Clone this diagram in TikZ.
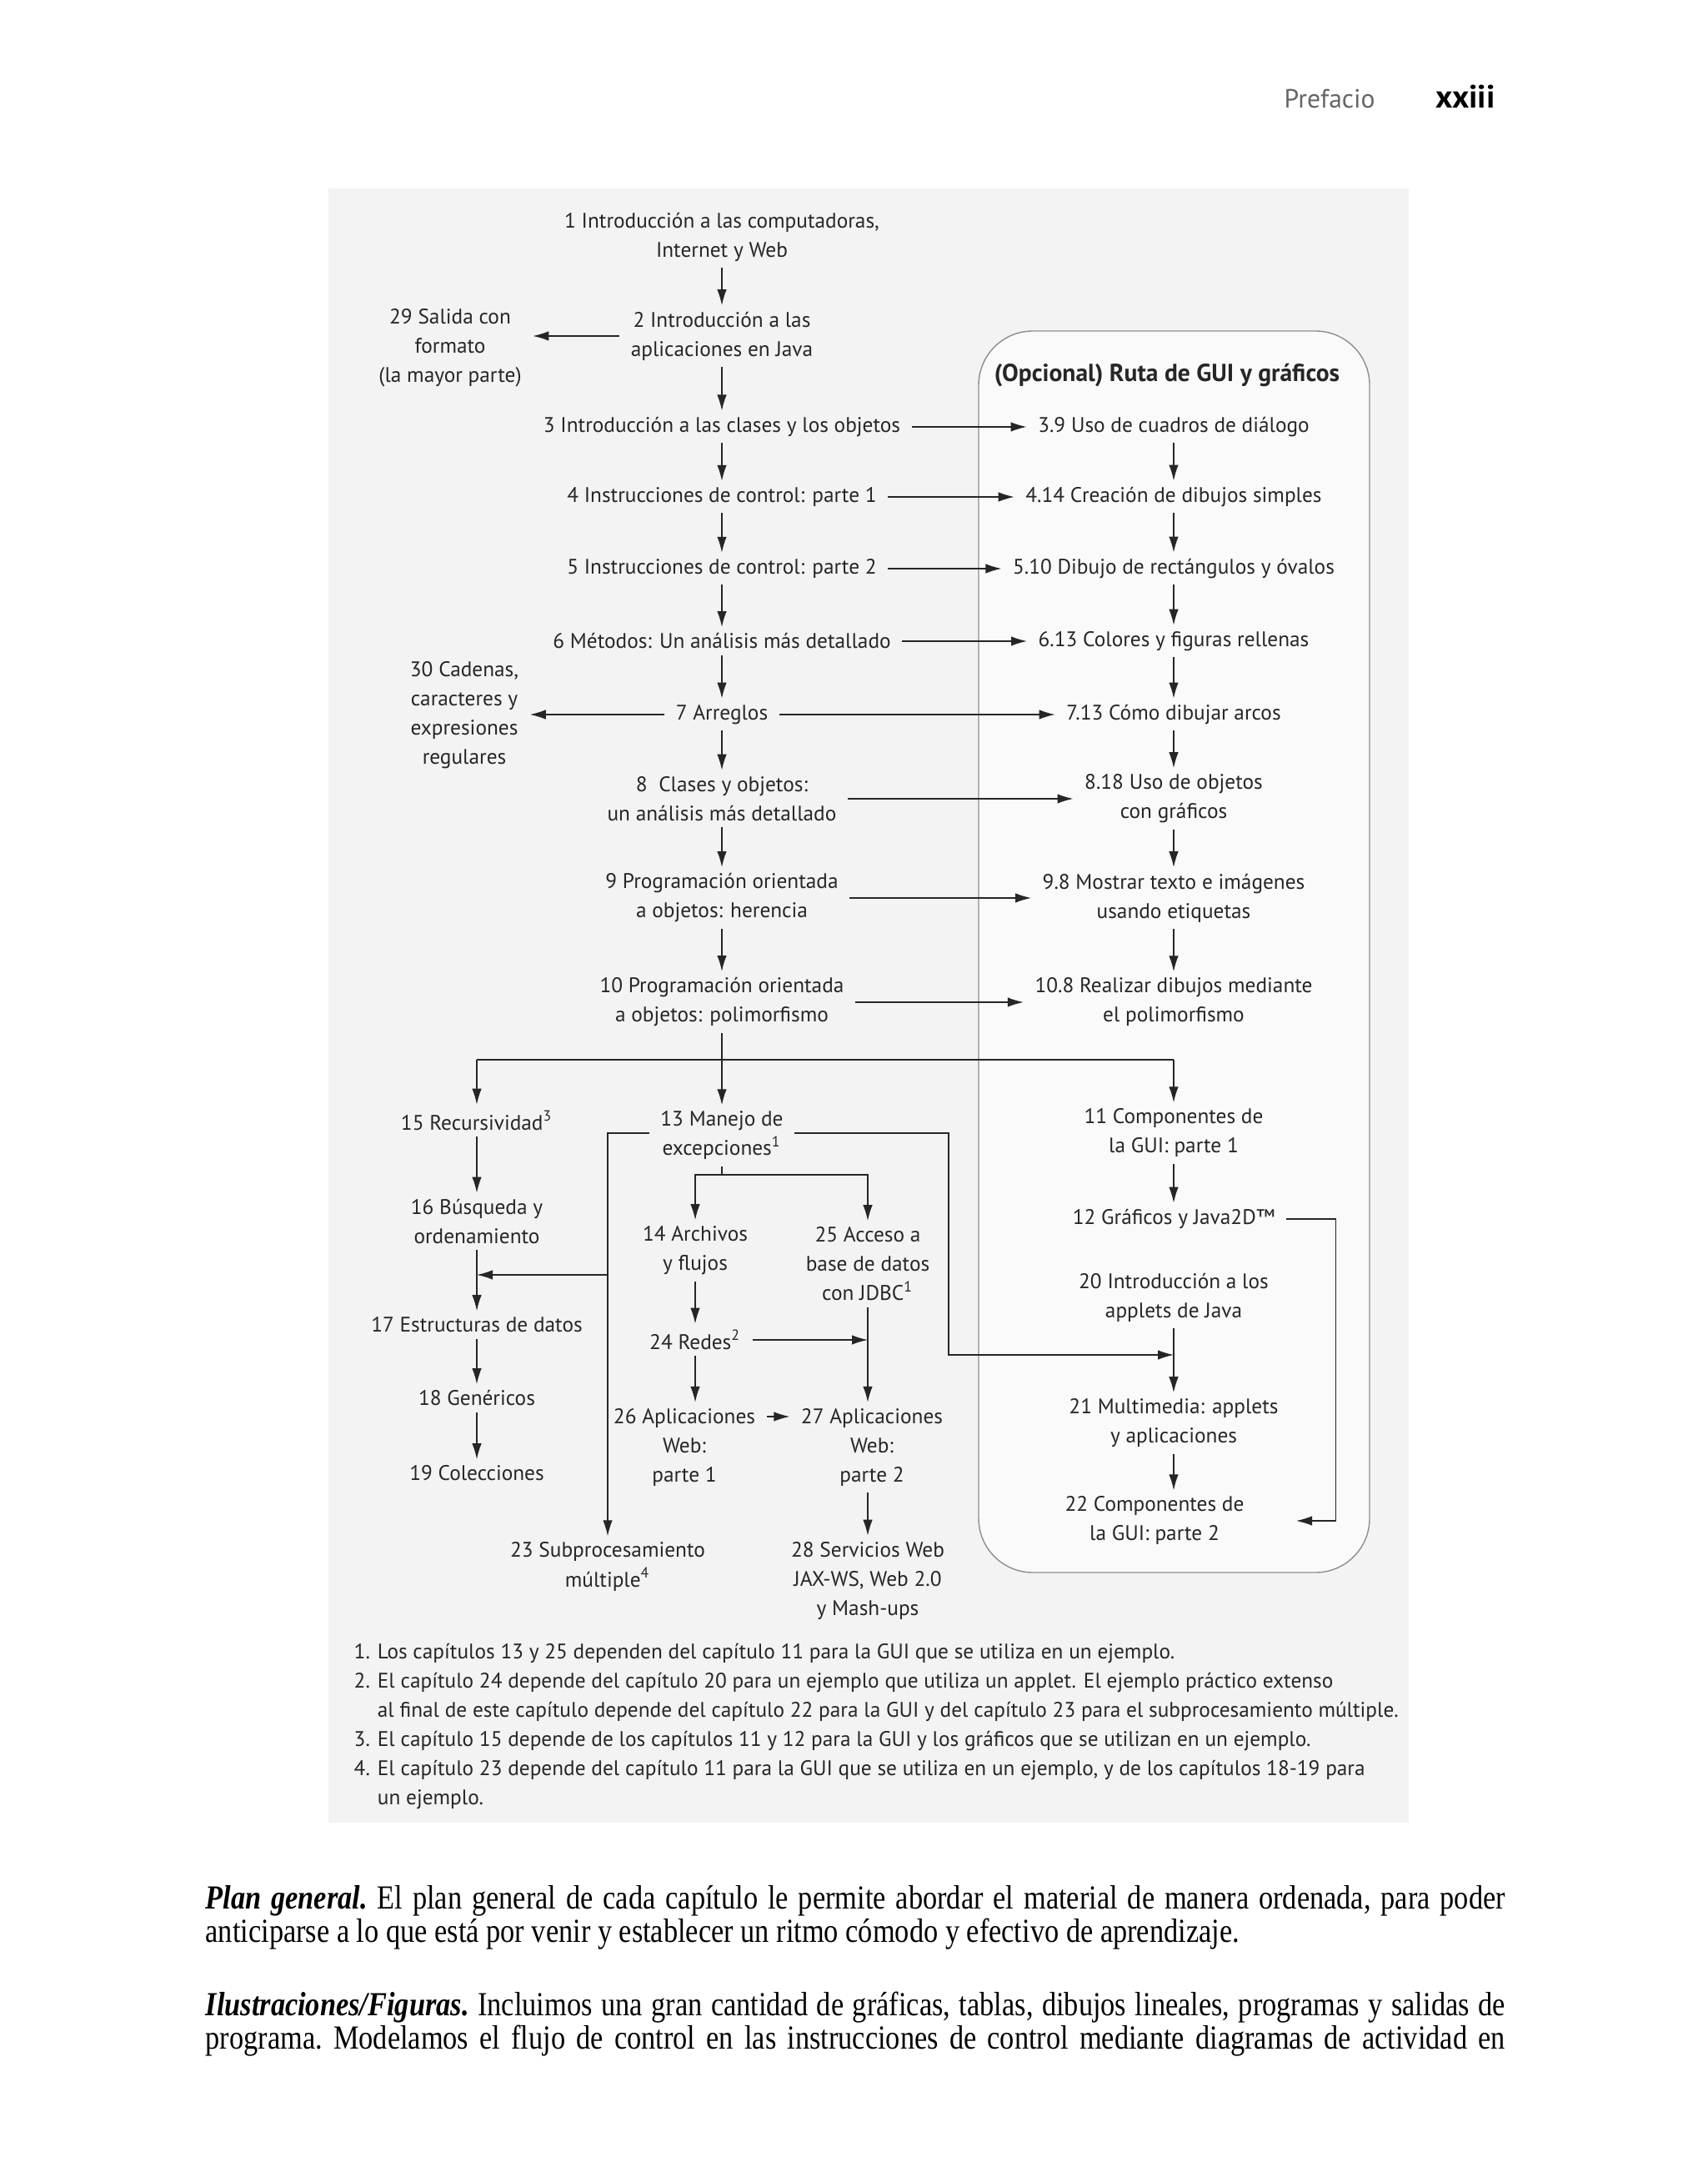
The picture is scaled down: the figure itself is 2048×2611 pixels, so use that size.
\documentclass[tikz,border=0pt]{standalone}
\usepackage{fontspec}
\setmainfont{Liberation Serif}
\newfontfamily\gillsans{PT Sans}
\newfontfamily\bodyserif{Liberation Serif}[FakeStretch=0.85]
\usetikzlibrary{arrows.meta}
\definecolor{panelgray}{HTML}{F4F3F3}
\definecolor{boxgray}{HTML}{8E8E8E}
\definecolor{ink}{HTML}{262626}
\newcommand\diagfont{\gillsans\fontsize{7.2}{9.96}\selectfont}
\newcommand\bodyfont{\bodyserif\fontsize{11.5}{11.4}\selectfont\frenchspacing}

\begin{document}
\begin{tikzpicture}[x=0.1mm,y=-0.1mm,
	>={Latex[length=1.9mm,width=1.15mm]},
	chap/.style={align=center,font=\diagfont,text=ink,inner xsep=1.3mm,inner ysep=0.7mm},
	link/.style={->,draw=ink}]
	\useasboundingbox (0,0) rectangle (2048,2611);
	\fill[white] (0,0) rectangle (2048,2611);

	\node[anchor=base east,font=\gillsans\fontsize{9}{11}\selectfont,text=black!60] (pref) at (1662,130) {Prefacio};
	\node[anchor=base east,font=\gillsans\bfseries\fontsize{11}{13}\selectfont] (page) at (1806,130) {xxiii};

	\fill[panelgray] (394,226) rectangle (1690,2186);
	\draw[boxgray,fill=white!60!panelgray,rounded corners=6.5mm] (1174,397) rectangle (1643,1886);

	% columna principal
	\node[chap] (n1) at (866,284) {1 Introducción a las computadoras,\\Internet y Web};
	\node[chap] (n2) at (866,403) {2 Introducción a las\\aplicaciones en Java};
	\node[chap] (n29) at (540,417) {29 Salida con\\formato\\(la mayor parte)};
	\node[chap] (n3) at (866,512) {3 Introducción a las clases y los objetos};
	\node[chap] (n4) at (866,596) {4 Instrucciones de control: parte 1};
	\node[chap] (n5) at (866,682) {5 Instrucciones de control: parte 2};
	\node[chap] (n6) at (866,769) {6 Métodos: Un análisis más detallado};
	\node[chap] (n7) at (866,857) {7 Arreglos};
	\node[chap] (n30) at (557,858) {30 Cadenas,\\caracteres y\\expresiones\\regulares};
	\node[chap] (n8) at (866,958) {8~~Clases y objetos:\\un análisis más detallado};
	\node[chap] (n9) at (866,1077) {9 Programación orientada\\a objetos: herencia};
	\node[chap] (n10) at (866,1202) {10 Programación orientada\\a objetos: polimorfismo};

	% ruta de GUI
	\node[chap,font=\gillsans\bfseries\fontsize{8.4}{10}\selectfont] (gui) at (1400,450) {(Opcional) Ruta de GUI y gráficos};
	\node[chap] (n39) at (1408,512) {3.9 Uso de cuadros de diálogo};
	\node[chap] (n414) at (1408,596) {4.14 Creación de dibujos simples};
	\node[chap] (n510) at (1408,682) {5.10 Dibujo de rectángulos y óvalos};
	\node[chap] (n613) at (1408,769) {6.13 Colores y figuras rellenas};
	\node[chap] (n713) at (1408,857) {7.13 Cómo dibujar arcos};
	\node[chap] (n818) at (1408,958) {8.18 Uso de objetos\\con gráficos};
	\node[chap] (n98) at (1408,1077) {9.8 Mostrar texto e imágenes\\usando etiquetas};
	\node[chap] (n108) at (1408,1202) {10.8 Realizar dibujos mediante\\el polimorfismo};

	\node[chap] (n15) at (572,1344) {15 Recursividad\textsuperscript{3}};
	\node[chap] (n13) at (866,1362) {13 Manejo de\\excepciones\textsuperscript{1}};
	\node[chap] (n11) at (1408,1359) {11 Componentes de\\la GUI: parte 1};
	\node[chap] (n16) at (572,1465) {16 Búsqueda y\\ordenamiento};
	\node[chap] (n14) at (834,1500) {14 Archivos\\y flujos};
	\node[chap] (n25) at (1041,1516) {25 Acceso a\\base de datos\\con JDBC\textsuperscript{1}};
	\node[chap] (n12) at (1408,1462) {12 Gráficos y Java2D™};
	\node[chap] (n20) at (1408,1556) {20 Introducción a los\\applets de Java};
	\node[chap] (n17) at (572,1589) {17 Estructuras de datos};
	\node[chap] (n24) at (834,1607) {24 Redes\textsuperscript{2}};
	\node[chap] (n18) at (572,1677) {18 Genéricos};
	\node[chap] (n19) at (572,1767) {19 Colecciones};
	\node[chap] (n26) at (821,1736) {26 Aplicaciones\\Web:\\parte 1};
	\node[chap] (n27) at (1046,1736) {27 Aplicaciones\\Web:\\parte 2};
	\node[chap] (n21) at (1408,1707) {21 Multimedia: applets\\y aplicaciones};
	\node[chap] (n22) at (1385,1824) {22 Componentes de\\la GUI: parte 2};
	\node[chap] (n23) at (729,1879) {23 Subprocesamiento\\múltiple\textsuperscript{4}};
	\node[chap] (n28) at (1041,1896) {28 Servicios Web\\JAX-WS, Web 2.0\\y Mash-ups};

	\foreach \a/\b in {n1/n2,n2/n3,n3/n4,n4/n5,n5/n6,n6/n7,n7/n8,n8/n9,n9/n10,n10/n13,
			n39/n414,n414/n510,n510/n613,n613/n713,n713/n818,n818/n98,n98/n108,
			n3/n39,n4/n414,n5/n510,n6/n613,n7/n713,n8/n818,n9/n98,n10/n108,
			n15/n16,n16/n17,n17/n18,n18/n19,n14/n24,n11/n12,n20/n21}
		\draw[link] (\a) -- (\b);
	\draw[link] (n2) -- (n2 -| n29.east);
	\draw[link] (n7) -- (n7 -| n30.east);

	% reparto bajo el capitulo 10
	\coordinate (bus) at (866,1271);
	\draw[ink] (n15 |- bus) -- (n11 |- bus);
	\draw[link] (n15 |- bus) -- (n15);
	\draw[link] (n11 |- bus) -- (n11);

	\coordinate (s13) at (866,1409);
	\draw[ink] (n13) -- (s13);
	\draw[link] (s13) -| (n14);
	\draw[link] (s13) -| (n25);
	\draw[link] (n13.west |- 0,1359) -| (n23);
	\draw[link] (n23 |- 0,1529) -- (n17 |- 0,1529);
	\draw[link] (n13.east |- 0,1359) -| (1138,1625) -- (n21 |- 0,1625);

	\draw[link] (n24) -- (n26.north -| n24);
	\draw[link] (n25) -- (n27.north -| n25);
	\draw[link] (n24) -- (n24 -| n25);
	\draw[link] (n26.east |- 0,1699) -- (n27.west |- 0,1699);
	\draw[link] (n27.south -| n28) -- (n28);
	\draw[link] (n21) -- (n22.north -| n21);
	\draw[link,line width=0.3pt] (n12) -| (1602,1824) -- ([xshift=4.9mm]n22.east);

	\node[anchor=north west,align=left,inner sep=0,font=\diagfont,text=ink] (notes) at (424,1971)
		{1. Los capítulos 13 y 25 dependen del capítulo 11 para la GUI que se utiliza en un ejemplo.\\
		2. El capítulo 24 depende del capítulo 20 para un ejemplo que utiliza un applet. El ejemplo práctico extenso\\
		\phantom{2. }al final de este capítulo depende del capítulo 22 para la GUI y del capítulo 23 para el subprocesamiento múltiple.\\
		3. El capítulo 15 depende de los capítulos 11 y 12 para la GUI y los gráficos que se utilizan en un ejemplo.\\
		4. El capítulo 23 depende del capítulo 11 para la GUI que se utiliza en un ejemplo, y de los capítulos 18-19 para\\
		\phantom{4. }un ejemplo.};

	\node[anchor=north west,align=left,inner sep=0,font=\bodyfont] (plan) at (246,2261)
		{\makebox[155.9mm][s]{\textbf{\textit{Plan general.}} El plan general de cada capítulo le permite abordar el material de manera ordenada, para poder}\\
		anticiparse a lo que está por venir y establecer un ritmo cómodo y efectivo de aprendizaje.};
	\node[anchor=north west,align=left,inner sep=0,font=\bodyfont] (ilus) at (246,2388)
		{\makebox[155.9mm][s]{\textbf{\textit{Ilustraciones/Figuras.}} Incluimos una gran cantidad de gráficas, tablas, dibujos lineales, programas y salidas de}\\
		\makebox[155.9mm][s]{programa. Modelamos el flujo de control en las instrucciones de control mediante diagramas de actividad en}};
\end{tikzpicture}
\end{document}
